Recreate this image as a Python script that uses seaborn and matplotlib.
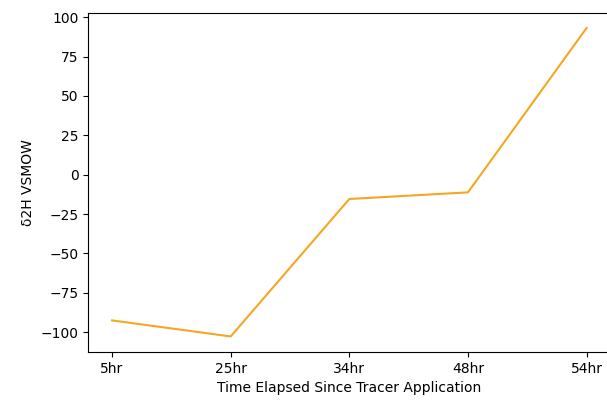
import pandas as pd
import matplotlib
matplotlib.use("Agg")
import matplotlib.pyplot as plt
import seaborn as sns

# data
time_labels = ["5hr", "25hr", "34hr", "48hr", "54hr"]
d2h_values = [-92.5, -102.7, -15.4, -11.2, 93.2]

df = pd.DataFrame({"Time": time_labels, "d2H": d2h_values})

fig = plt.figure(figsize=(6.07, 4.04), dpi=100)
# the right spine runs just past the edge of the image in the reference
ax = fig.add_axes([0.1455, 0.129, 0.860, 0.840])
sns.lineplot(data=df, x="Time", y="d2H", color="#f5a623", linewidth=1.5, ax=ax)
ax.set_xlabel("Time Elapsed Since Tracer Application")
ax.set_ylabel("δ2H VSMOW")
plt.savefig("out.png", dpi=100)
